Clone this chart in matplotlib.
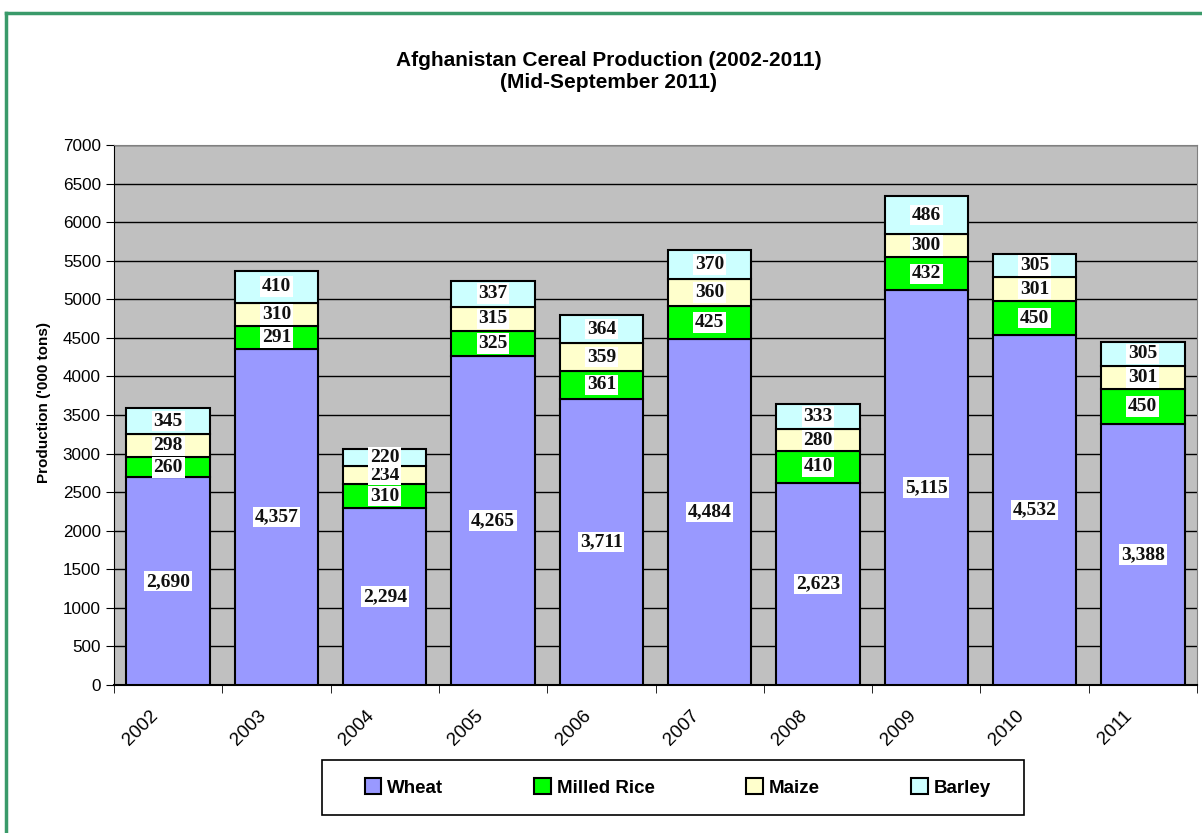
import numpy as np
import matplotlib.pyplot as plt
import matplotlib.transforms as mtransforms
from matplotlib.patches import Rectangle

years = ['2002', '2003', '2004', '2005', '2006', '2007', '2008', '2009', '2010', '2011']
wheat = [2690, 4357, 2294, 4265, 3711, 4484, 2623, 5115, 4532, 3388]
rice = [260, 291, 310, 325, 361, 425, 410, 432, 450, 450]
maize = [298, 310, 234, 315, 359, 360, 280, 300, 301, 301]
barley = [345, 410, 220, 337, 364, 370, 333, 486, 305, 305]

series = [('Wheat', wheat, '#9999ff'),
          ('Milled Rice', rice, '#00ff00'),
          ('Maize', maize, '#ffffcc'),
          ('Barley', barley, '#ccffff')]

plt.rcParams['font.family'] = ['Liberation Sans', 'DejaVu Sans']

fig = plt.figure(figsize=(12.02, 8.33), dpi=100)
ax = fig.add_axes([114/1202, 1-685/833, (1197-114)/1202, (685-145)/833])
ax.set_facecolor('#c0c0c0')

x = np.arange(len(years))
bottom = np.zeros(len(years))
for name, vals, col in series:
    vals = np.array(vals, dtype=float)
    ax.bar(x, vals, width=0.77, bottom=bottom, color=col, edgecolor='black',
           linewidth=1.5, label=name, zorder=3)
    for xi, b, v in zip(x, bottom, vals):
        ax.text(xi, b + v/2, f'{int(v):,}', ha='center', va='center',
                fontsize=14, fontweight='bold', family=['Liberation Serif', 'DejaVu Serif'],
                color='#111111', zorder=4,
                bbox=dict(facecolor='white', edgecolor='none', pad=1.2))
    bottom += vals

ax.set_xlim(-0.5, len(years) - 0.5)
ax.set_ylim(0, 7000)
ax.set_yticks(np.arange(0, 7001, 500))
ax.yaxis.grid(True, color='black', linewidth=1.0, zorder=0)
ax.set_axisbelow(True)
ax.set_xticks(x)
ax.set_xticklabels(years, rotation=45, ha='right', va='top', fontsize=13.5)
ax.tick_params(axis='x', which='major', length=0, pad=16)
shift = mtransforms.ScaledTranslation(-7/100, 0, fig.dpi_scale_trans)
for lab in ax.get_xticklabels():
    lab.set_transform(lab.get_transform() + shift)
ax.set_xticks(np.arange(-0.5, len(years)), minor=True)
ax.tick_params(axis='x', which='minor', length=6, direction='out')
ax.tick_params(axis='y', length=6, direction='out', labelsize=12.3)
for s in ['top', 'right']:
    ax.spines[s].set_color('#808080')
ax.spines['left'].set_color('black')
ax.spines['bottom'].set_color('black')
ax.spines['bottom'].set_linewidth(1.5)

ax.set_ylabel("Production ('000 tons)", fontsize=11, fontweight='bold')
ax.yaxis.set_label_coords(-63/1083, (685-402)/540)

fig.text(609/1202, 1-60/833, 'Afghanistan Cereal Production (2002-2011)',
         ha='center', va='center', fontsize=15, fontweight='bold')
fig.text(609/1202, 1-83/833, '(Mid-September 2011)',
         ha='center', va='center', fontsize=15, fontweight='bold')

leg = fig.legend(loc='center', ncol=4, mode='expand',
                 bbox_to_anchor=(357/1202, 1-815/833, 641/1202, 55/833),
                 frameon=True, fancybox=False, shadow=False,
                 prop={'weight': 'bold', 'size': 13.5},
                 handlelength=0.9, handleheight=0.9, handletextpad=0.3,
                 borderaxespad=0)
leg.get_frame().set_visible(False)
fig.patches.append(Rectangle((322/1202, 1-815/833), 702/1202, 55/833,
                             transform=fig.transFigure, fill=False,
                             edgecolor='black', linewidth=1.2))

# green outer border (top and left only)
fig.add_artist(plt.Line2D([5.5/1202, 5.5/1202], [0, 1-12.5/833],
                          transform=fig.transFigure, color='#3a9a6a', linewidth=2.5))
fig.add_artist(plt.Line2D([5.5/1202, 1], [1-12.5/833, 1-12.5/833],
                          transform=fig.transFigure, color='#3a9a6a', linewidth=2.5))

fig.savefig('out.png', dpi=100)
